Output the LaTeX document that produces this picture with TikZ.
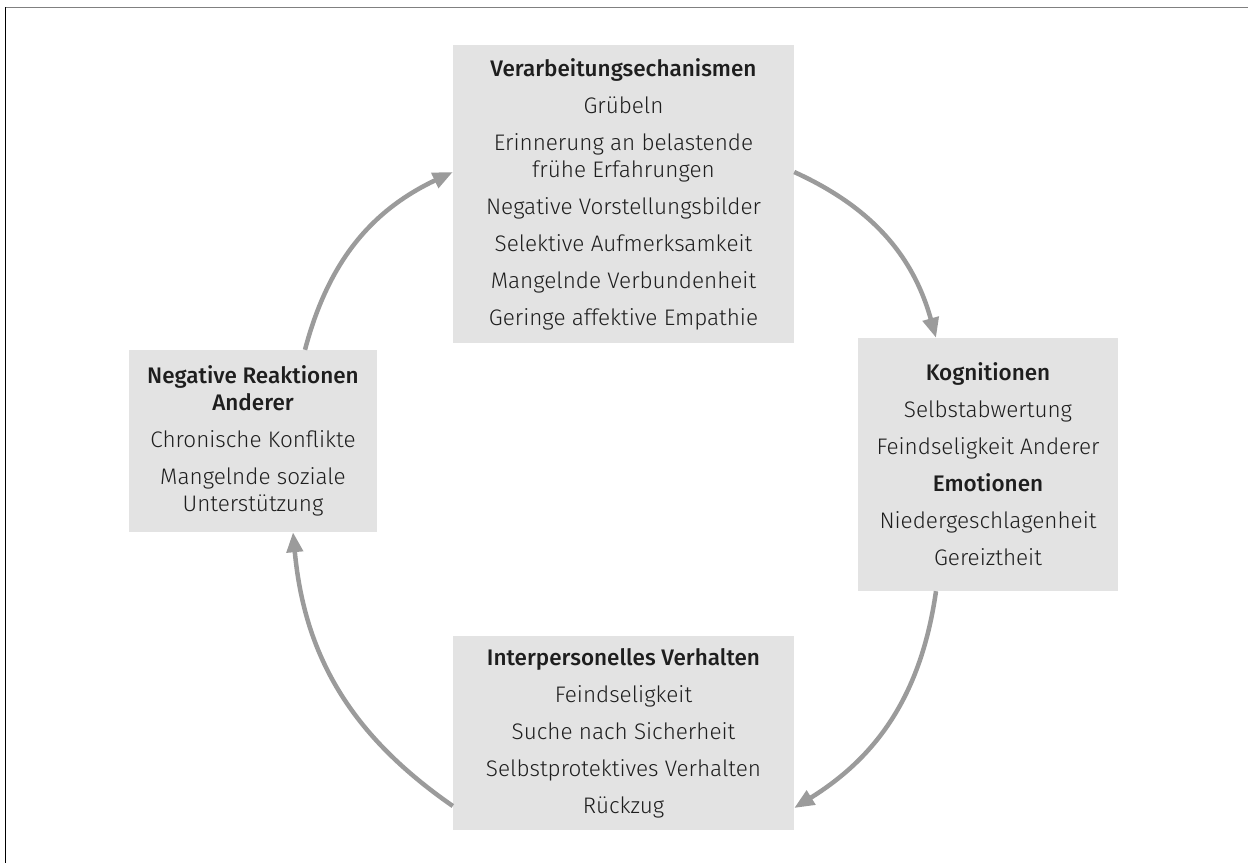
\documentclass[tikz,border=0pt]{standalone}
\usepackage{fontspec}
\setmainfont{Fira Sans}[UprightFont={* Light},BoldFont={* Medium}]
\usepackage{xcolor}
\usetikzlibrary{arrows.meta}
\definecolor{boxgray}{RGB}{227,227,227}
\definecolor{arrowgray}{RGB}{155,155,155}
\definecolor{textdark}{RGB}{30,30,30}

\begin{document}
\begin{tikzpicture}[x=1pt,y=-1pt,
      font=\fontsize{22.5}{27}\selectfont,
      box/.style={fill=boxgray,text=textdark,align=center,inner sep=0pt},
      cycarrow/.style={-{Triangle[length=20pt,width=16pt]},line width=4.5pt,
                       arrowgray,bend left=25}]
    \useasboundingbox (0,0) rectangle (1248,863);
    % open frame
    \draw[line width=1.5pt,gray] (5,7.5) -- (1248,7.5);
    \draw[line width=1.5pt,black] (5.5,7) -- (5.5,863);

    \node[box,minimum width=341pt,minimum height=298pt] (proc) at (623.5,194)
      {\textbf{Verarbeitungsechanismen}\\[10pt]
       Grübeln\\[10pt]
       Erinnerung an belastende\\frühe Erfahrungen\\[10pt]
       Negative Vorstellungsbilder\\[10pt]
       Selektive Aufmerksamkeit\\[10pt]
       Mangelnde Verbundenheit\\[10pt]
       Geringe affektive Empathie};
    \node[box,minimum width=260pt,minimum height=253pt] (cogn) at (988,464.5)
      {\textbf{Kognitionen}\\[10pt]
       Selbstabwertung\\[10pt]
       Feindseligkeit Anderer\\[10pt]
       \textbf{Emotionen}\\[10pt]
       Niedergeschlagenheit\\[10pt]
       Gereiztheit};
    \node[box,minimum width=341pt,minimum height=194pt] (behav) at (623.5,733)
      {\textbf{Interpersonelles Verhalten}\\[10pt]
       Feindseligkeit\\[10pt]
       Suche nach Sicherheit\\[10pt]
       Selbstprotektives Verhalten\\[10pt]
       Rückzug};
    \node[box,minimum width=248pt,minimum height=182pt] (react) at (253,441)
      {\textbf{Negative Reaktionen}\\\textbf{Anderer}\\[10pt]
       Chronische Konflikte\\[10pt]
       Mangelnde soziale\\Unterstützung};

    \draw[cycarrow] ([xshift=52pt]react.north) to ([yshift=22pt]proc.west);
    \draw[cycarrow] ([yshift=22pt]proc.east) to ([xshift=-52pt]cogn.north);
    \draw[cycarrow] ([xshift=-52pt]cogn.south) to ([yshift=-75pt]behav.east);
    \draw[cycarrow] ([yshift=-73pt]behav.west) to ([xshift=40pt]react.south);
  \end{tikzpicture}
\end{document}
